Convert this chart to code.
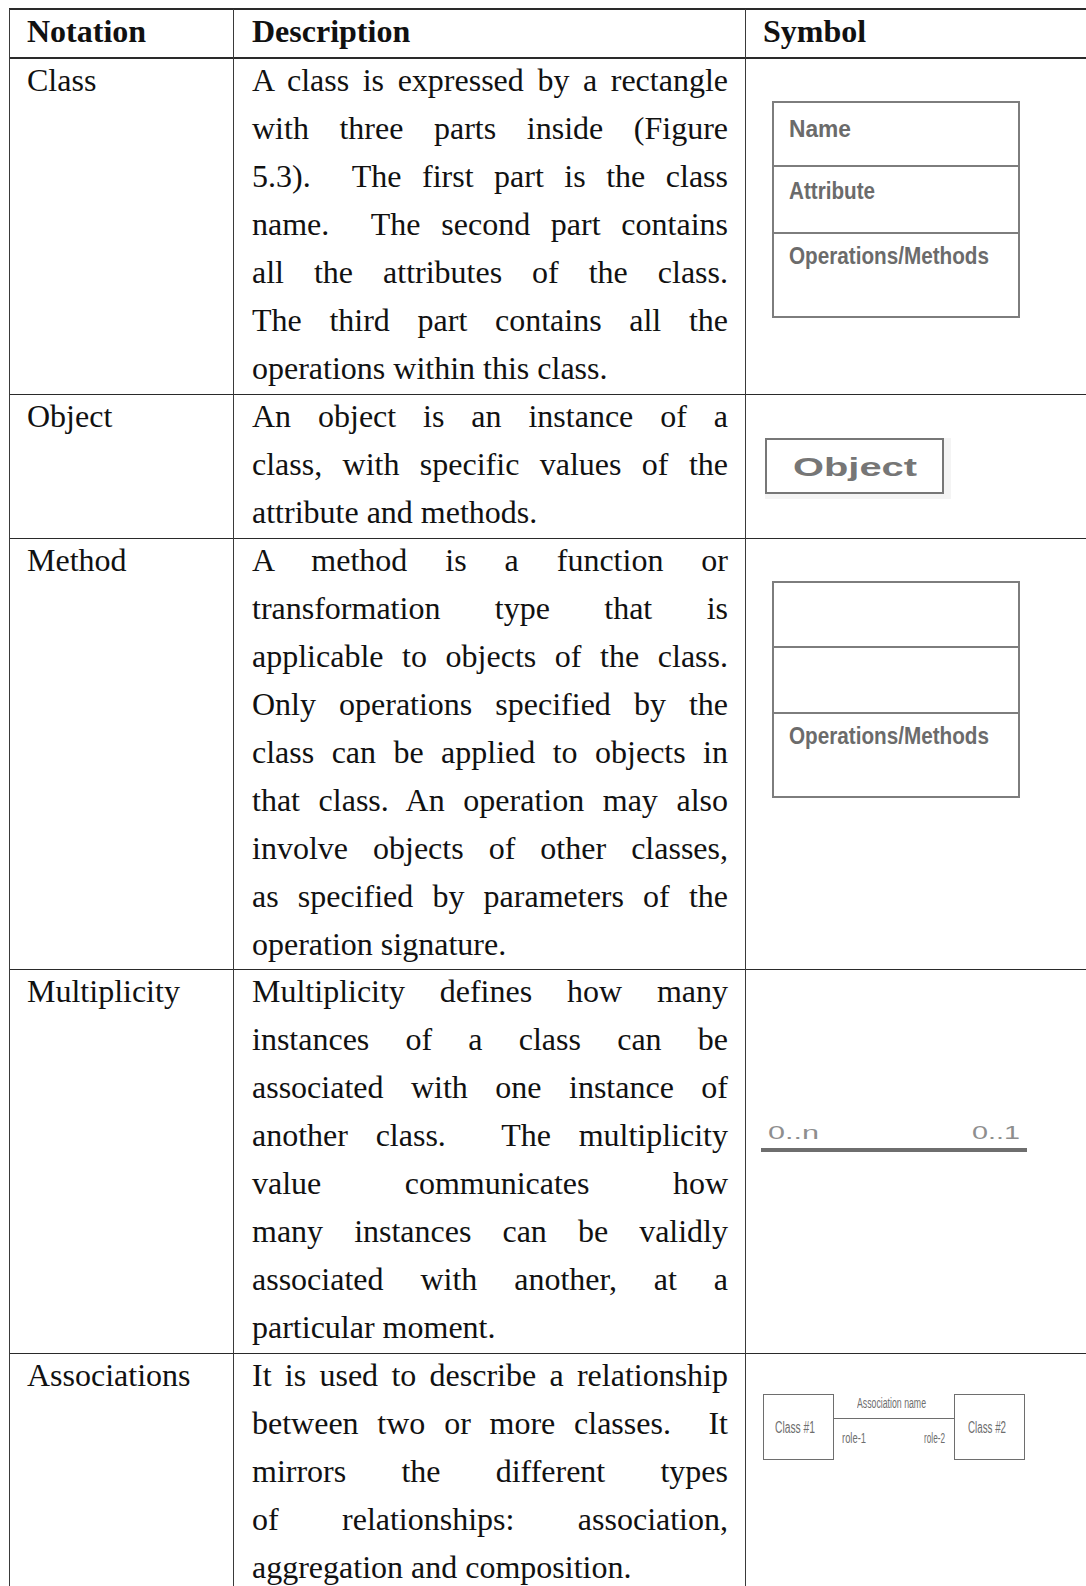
<!DOCTYPE html>
<html>
<head>
<meta charset="utf-8">
<script src="https://cdn.jsdelivr.net/npm/chart.js@4.4.1/dist/chart.umd.min.js"></script>
<style>
  html, body { margin: 0; padding: 0; background: #fff; }
  body { width: 1086px; height: 1586px; position: relative; overflow: hidden; }
  .hl { position: absolute; left: 9px; right: 0; background: #2a2a2a; }
  .vl { position: absolute; top: 9px; bottom: 0; width: 1.5px; background: #3a3a3a; }
  .txt { position: absolute; font-family: "Liberation Serif", "Times New Roman", serif; font-size: 32px; line-height: 47.95px; color: #111; white-space: nowrap; }
  .hdr { font-weight: bold; }
  .desc { position: absolute; left: 252px; width: 476px; font-family: "Liberation Serif", "Times New Roman", serif; font-size: 32px; color: #111; }
  .desc div { height: 47.95px; line-height: 47.95px; overflow: visible; }
  .desc div.j { text-align: justify; text-align-last: justify; }
  .box { position: absolute; border: 2px solid #7d7d7d; box-sizing: border-box; }
  .sep { position: absolute; height: 2px; background: #7d7d7d; }
  .lbl { position: absolute; font-family: "Liberation Sans", Arial, sans-serif; white-space: nowrap; transform-origin: 0 0; display: inline-block; line-height: 1; }
</style>
</head>
<body>
<script>
// ---- data ----
const headers = ["Notation", "Description", "Symbol"];
const notations = ["Class", "Object", "Method", "Multiplicity", "Associations"];
const descClass = [
  "A class is expressed by a rectangle",
  "with three parts inside (Figure",
  "5.3).  The first part is the class",
  "name.  The second part contains",
  "all the attributes of the class.",
  "The third part contains all the",
  "operations within this class."
];
const descObject = [
  "An object is an instance of a",
  "class, with specific values of the",
  "attribute and methods."
];
const descMethod = [
  "A method is a function or",
  "transformation type that is",
  "applicable to objects of the class.",
  "Only operations specified by the",
  "class can be applied to objects in",
  "that class. An operation may also",
  "involve objects of other classes,",
  "as specified by parameters of the",
  "operation signature."
];
const descMultiplicity = [
  "Multiplicity defines how many",
  "instances of a class can be",
  "associated with one instance of",
  "another class.  The multiplicity",
  "value communicates how",
  "many instances can be validly",
  "associated with another, at a",
  "particular moment."
];
const descAssociations = [
  "It is used to describe a relationship",
  "between two or more classes.  It",
  "mirrors the different types",
  "of relationships: association,",
  "aggregation and composition."
];
const classParts = ["Name", "Attribute", "Operations/Methods"];
const methodParts = ["", "", "Operations/Methods"];
const objectLabel = "Object";
const multiplicityLabels = ["0..n", "0..1"];
const associationLabels = ["Class #1", "Association name", "role-1", "role-2", "Class #2"];
</script>
<script>
(function(){
  const LH = 47.95;
  const descs = [descClass, descObject, descMethod, descMultiplicity, descAssociations];
  const rowTops = [9];
  let y = 58;
  rowTops.push(y);
  descs.forEach(d => { y += d.length * LH; rowTops.push(Math.round(y)); });
  // rowTops: header, class, object, method, mult, assoc, end
  const add = (html) => { document.body.insertAdjacentHTML('beforeend', html); };
  // horizontal lines
  add(`<div class="hl" style="top:8px;height:2px"></div>`);
  add(`<div class="hl" style="top:57px;height:2px"></div>`);
  for (let i = 2; i < rowTops.length - 1; i++) {
    add(`<div class="hl" style="top:${rowTops[i]-0.5}px;height:1.5px"></div>`);
  }
  // vertical lines
  [8.5, 232.5, 744.5].forEach(x => add(`<div class="vl" style="left:${x}px"></div>`));
  // header
  const hx = [27, 252, 763];
  headers.forEach((h, i) => add(`<div class="txt hdr" style="left:${hx[i]}px;top:${9-1}px">${h}</div>`));
  // rows
  descs.forEach((d, r) => {
    const top = rowTops[r+1] - 1;
    add(`<div class="txt" style="left:27px;top:${top}px">${notations[r]}</div>`);
    let inner = d.map((line, i) => `<div class="${i < d.length-1 ? 'j' : ''}">${line.replace(/  /g,' &nbsp;')}</div>`).join('');
    add(`<div class="desc" style="top:${top}px">${inner}</div>`);
  });

  // ---- symbols ----
  function lbl(text, left, baseline, size, w, color, weight, family, extra) {
    const asc = size * 0.83;
    add(`<span class="lbl fit" data-w="${w}" style="left:${left}px;top:${baseline-asc}px;font-size:${size}px;color:${color};font-weight:${weight};font-family:${family||'\"Liberation Sans\", Arial, sans-serif'};${extra||''}">${text}</span>`);
  }
  // Class symbol
  add(`<div class="box" style="left:772px;top:101px;width:248px;height:217px"></div>`);
  add(`<div class="sep" style="left:772px;top:165px;width:248px"></div>`);
  add(`<div class="sep" style="left:772px;top:232px;width:248px"></div>`);
  const cw = [62, 86, 200];
  const cb = [137, 199, 264];
  classParts.forEach((t, i) => lbl(t, 789, cb[i], 24, cw[i], '#6b6b6b', 'bold'));
  // Object symbol
  add(`<div style="position:absolute;left:765px;top:438px;width:186px;height:61px;background:#f4f4f4"></div>`);
  add(`<div class="box" style="left:765px;top:438px;width:179px;height:56px;border-width:2.5px;border-color:#777;background:#fff"></div>`);
  lbl(objectLabel, 793, 476, 26, 124, '#767676', 'bold', '"DejaVu Sans", Verdana, sans-serif', 'text-decoration:underline;text-decoration-thickness:2px;text-underline-offset:4px;');
  // Method symbol
  add(`<div class="box" style="left:772px;top:581px;width:248px;height:217px"></div>`);
  add(`<div class="sep" style="left:772px;top:646px;width:248px"></div>`);
  add(`<div class="sep" style="left:772px;top:712px;width:248px"></div>`);
  lbl(methodParts[2], 789, 744, 24, 200, '#6b6b6b', 'bold');
  // Multiplicity symbol
  add(`<div style="position:absolute;left:761px;top:1148px;width:266px;height:3.5px;background:#6e6e6e"></div>`);
  lbl(multiplicityLabels[0], 768, 1139, 18, 51, '#8e8e8e', 'normal', '"Open Sans", "Liberation Sans", sans-serif', 'letter-spacing:3px;');
  lbl(multiplicityLabels[1], 972, 1139, 18, 48, '#8e8e8e', 'normal', '"Open Sans", "Liberation Sans", sans-serif', 'letter-spacing:3px;');
  // Associations symbol
  add(`<div class="box" style="left:763px;top:1394px;width:71px;height:66px;border-width:1.5px;border-color:#6e6e6e"></div>`);
  add(`<div class="box" style="left:954px;top:1394px;width:71px;height:66px;border-width:1.5px;border-color:#6e6e6e"></div>`);
  add(`<div style="position:absolute;left:834px;top:1417.5px;width:120px;height:1.5px;background:#6e6e6e"></div>`);
  lbl(associationLabels[0], 775, 1433, 16, 40, '#6e6e6e', 'normal');
  lbl(associationLabels[1], 857, 1408, 14, 69, '#6e6e6e', 'normal');
  lbl(associationLabels[2], 842, 1443, 14, 24, '#6e6e6e', 'normal');
  lbl(associationLabels[3], 924, 1443, 14, 21, '#6e6e6e', 'normal');
  lbl(associationLabels[4], 968, 1433, 16, 38, '#6e6e6e', 'normal');

  // fit label widths
  document.querySelectorAll('.fit').forEach(el => {
    const w = el.getBoundingClientRect().width;
    const t = parseFloat(el.dataset.w);
    if (w > 0) el.style.transform = `scaleX(${t / w})`;
  });
})();
</script>
</body>
</html>
